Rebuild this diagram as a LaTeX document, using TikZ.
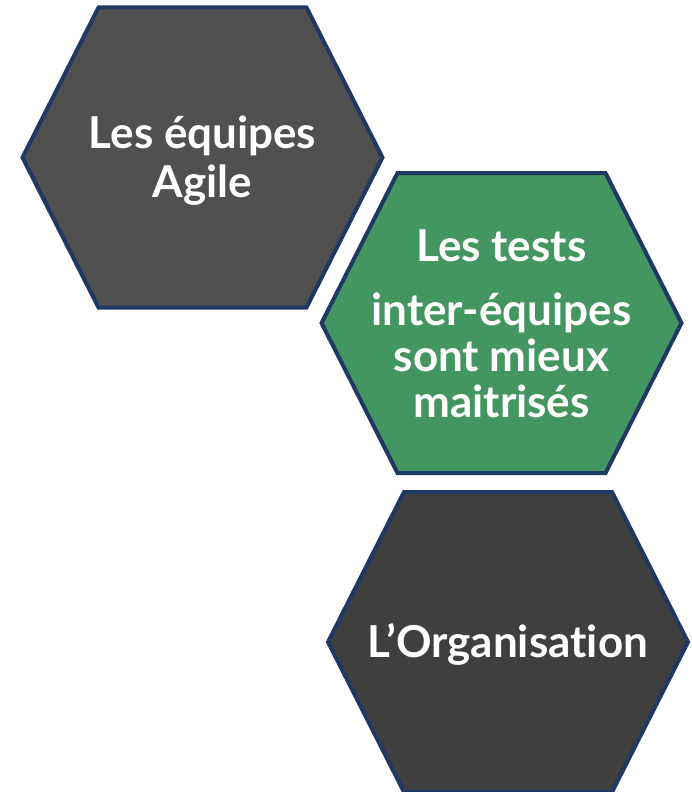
\documentclass[tikz,border=0pt]{standalone}
\usepackage{fontspec}
\setmainfont{Lato}[Ligatures={NoCommon}]
\usetikzlibrary{calc}
\definecolor{hexline}{RGB}{31,56,100}
\definecolor{hexgrey}{RGB}{80,80,80}
\definecolor{hexdark}{RGB}{63,63,63}
\definecolor{hexgreen}{RGB}{67,150,95}
\def\hexa[#1](#2){\draw[#1] ($(#2)+(-180,0)$) -- ++(76,-150) -- ++(208,0) -- ++(76,150) -- ++(-76,150) -- ++(-208,0) -- cycle;}
\tikzset{hexlabel/.style={text=white, align=center, font=\bfseries\fontsize{44}{46}\selectfont}}

\begin{document}
\begin{tikzpicture}[x=1pt, y=-1pt]
			%%%%% START %%%%%
			
			\useasboundingbox (0, 0) rectangle (692, 792);
			
			\begin{scope}
			\clip (0, 0) rectangle (692, 792);
			\hexa[line width=4pt, draw=hexline, fill=hexgrey](202.5, 157.5);
			\hexa[line width=4pt, draw=hexline, fill=hexgreen](501.5, 323);
			\hexa[line width=4pt, draw=hexline, fill=hexdark](508, 642);
			\end{scope}
			
			\node[hexlabel] (agile) at (202.5, 161) {Les équipes\\[3pt]Agile};
			\node[hexlabel] (tests) at (501.5, 324) {Les tests\\[18pt]inter-équipes\\sont mieux\\maitrisés};
			\node[hexlabel] (orga) at (508, 644) {L’Organisation};
			
			%%%%% END %%%%%
\end{tikzpicture}
\end{document}
